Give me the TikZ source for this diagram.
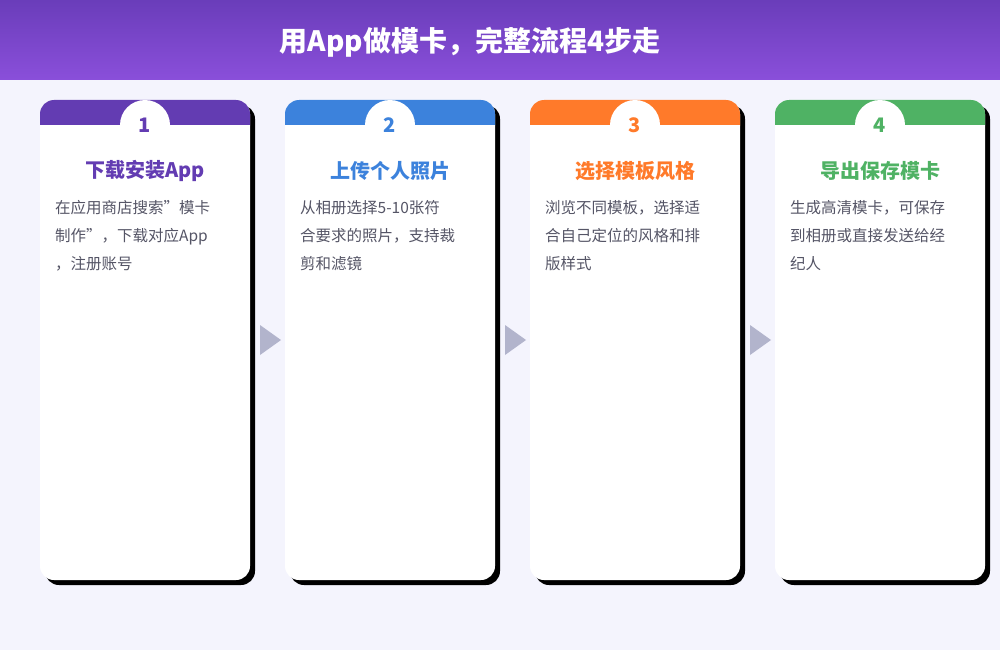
\documentclass[tikz,border=0pt]{standalone}
\usepackage{fontspec}
\setmainfont{Noto Sans CJK SC}
\newfontfamily\cjkb[BoldFont=Noto Sans CJK SC Bold]{Noto Sans CJK SC}
\definecolor{bg}{HTML}{F4F4FD}
\definecolor{cA}{HTML}{633CB2}
\definecolor{cB}{HTML}{3C82DC}
\definecolor{cC}{HTML}{FF7A2A}
\definecolor{cD}{HTML}{4FB264}
\definecolor{tA}{HTML}{6A3DBA}
\definecolor{tB}{HTML}{8A4FDA}
\definecolor{body}{HTML}{555566}
\definecolor{arr}{HTML}{B2B4CC}
\begin{document}
\begin{tikzpicture}[x=1pt,y=-1pt,
  cardbody/.style={fill=white,rounded corners=14pt},
  numc/.style={circle,fill=white,minimum size=50pt,inner sep=0pt,font=\bfseries\fontsize{20}{20}\selectfont},
  ttl/.style={font=\bfseries\fontsize{20}{24}\selectfont,anchor=center},
  bodytxt/.style={font=\fontsize{15.5}{28}\selectfont,text=body,anchor=north west,align=left,inner sep=0pt},
  arrowtri/.style={fill=arr}]
\fill[bg] (0,0) rectangle (1000,650);
\useasboundingbox (0,0) rectangle (1000,650);
\shade[top color=tA,bottom color=tB] (0,0) rectangle (1000,80);
\node[text=white,font=\bfseries\fontsize{28}{32}\selectfont] (title) at (470,42) {用App做模卡，完整流程4步走};
\foreach \i/\x/\c/\n/\t/\l in {
 1/40/cA/1/下载安装App/{在应用商店搜索"模卡\\制作"，下载对应App\\，注册账号},
 2/285/cB/2/上传个人照片/{从相册选择5-10张符\\合要求的照片，支持裁\\剪和滤镜},
 3/530/cC/3/选择模板风格/{浏览不同模板，选择适\\合自己定位的风格和排\\版样式},
 4/775/cD/4/导出保存模卡/{生成高清模卡，可保存\\到相册或直接发送给经\\纪人}}{
  \fill[black,rounded corners=14pt] (\x+5,105) rectangle (\x+215,585);
  \fill[cardbody] (\x,100) rectangle (\x+210,580);
  \fill[\c,rounded corners=14pt] (\x,100) rectangle (\x+210,140);
  \fill[white] (\x,125) rectangle (\x+210,141);
  \node[numc,text=\c] (n\i) at (\x+105,125) {\n};
  \node[ttl,text=\c] (t\i) at (\x+105,171) {\t};
  \node[bodytxt] (b\i) at (\x+15,200) {\l};
}
\foreach \x in {260,505,750}{
  \fill[arrowtri] (\x,325) -- (\x+21,340) -- (\x,355) -- cycle;
}
\end{tikzpicture}
\end{document}
